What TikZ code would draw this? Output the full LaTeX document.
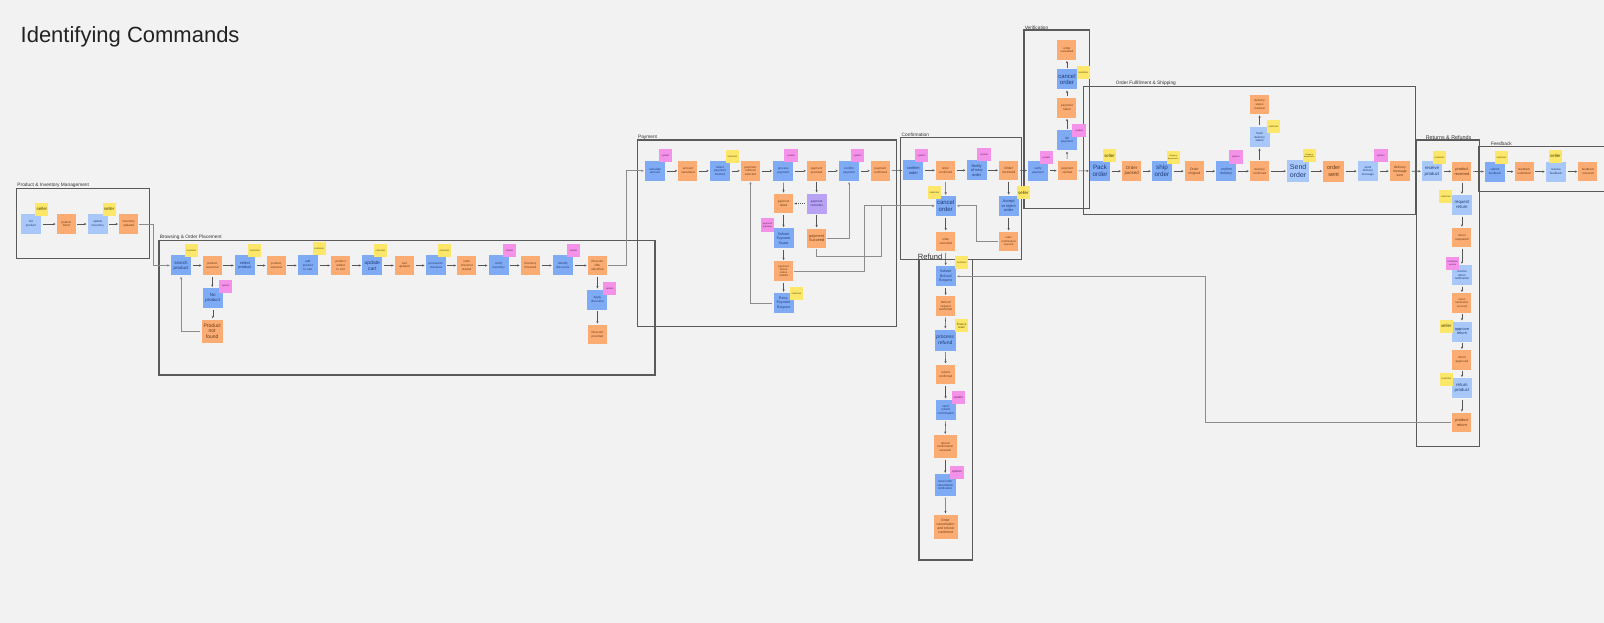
\documentclass[tikz,border=0pt]{standalone}
\usepackage{fontspec}
\setmainfont{Liberation Sans}
\newfontfamily\myserif{Liberation Serif}
\usetikzlibrary{arrows.meta}
\definecolor{bg}{HTML}{F2F2F2}
\definecolor{nblue}{HTML}{7FAAF4}
\definecolor{nlblue}{HTML}{A8C8F9}
\definecolor{norange}{HTML}{FBAC72}
\definecolor{nyellow}{HTML}{FDE76B}
\definecolor{npink}{HTML}{F492EA}
\definecolor{npurple}{HTML}{B8A2F4}
\definecolor{tblue}{HTML}{1F3C78}
\definecolor{tor}{HTML}{6B3B16}
\definecolor{tye}{HTML}{4F4700}
\definecolor{tpi}{HTML}{5E1F57}
\definecolor{tpu}{HTML}{3D2A73}
\definecolor{framec}{HTML}{5A5A5A}
\definecolor{flc}{HTML}{333333}
\definecolor{linec}{HTML}{555555}
\definecolor{connc}{HTML}{8C8C8C}
\definecolor{titlec}{HTML}{222222}
\tikzset{
 note/.style={rectangle, inner sep=0.3pt, align=center, minimum width=20pt, minimum height=20pt, font=\fontsize{3}{3.7}\selectfont},
 bnote/.style={note, fill=nblue, text=tblue},
 lbnote/.style={note, fill=nlblue, text=tblue},
 onote/.style={note, fill=norange, text=tor, minimum width=19pt, minimum height=19.5pt},
 pnote/.style={note, fill=npurple, text=tpu},
 tagn/.style={rectangle, inner sep=0.2pt, align=center, minimum width=13pt, minimum height=13pt, font=\fontsize{2.4}{2.9}\selectfont},
 ytag/.style={tagn, fill=nyellow, text=tye},
 ptag/.style={tagn, fill=npink, text=tpi, minimum width=13.5pt, minimum height=13.5pt},
 fs6/.style={font=\fontsize{6}{6.8}\selectfont},
 fs5/.style={font=\fontsize{5}{5.8}\selectfont},
 fs45/.style={font=\fontsize{4.4}{5.1}\selectfont},
 fs4/.style={font=\fontsize{3.9}{4.6}\selectfont},
 fs35/.style={font=\fontsize{3.4}{4}\selectfont},
 sel/.style={font=\fontsize{4.4}{5}\selectfont},
 serifn/.style={font=\myserif\fontsize{4}{4.7}\selectfont},
 grp/.style={draw=framec, line width=1.1pt},
 flabel/.style={anchor=south west, inner sep=0.6pt, font=\fontsize{4.8}{5.2}\selectfont, text=flc},
 arr/.style={draw=linec, line width=0.55pt, -{Stealth[length=2.4pt,width=2.2pt]}, shorten >=1pt, shorten <=1.5pt},
 conn/.style={draw=connc, line width=0.8pt, -{Stealth[length=2.6pt,width=2.4pt]}, shorten >=1pt, shorten <=1pt},
}
\begin{document}
\begin{tikzpicture}[x=1.023pt,y=-1.023pt]
\fill[bg] (0,0) rectangle (1568,609);
\useasboundingbox (0,0) rectangle (1568,609);
\node[anchor=west, inner sep=0, font=\fontsize{22}{26}\selectfont, text=titlec] (title) at (20,36) {Identifying Commands};

% frames
\draw[grp] (16.3,184) rectangle (146,252.5);
\node[flabel] (lprod) at (16.3,184) {Product \& Inventory Management};
\draw[grp] (155.4,235.3) rectangle (640.3,366.6);
\node[flabel] (lbrow) at (155.4,235.3) {Browsing \& Order Placement};
\draw[grp] (623,136.9) rectangle (876.5,319.3);
\node[flabel] (lpay) at (623,136.9) {Payment};
\draw[grp] (880.7,134.6) rectangle (998.7,254);
\node[flabel] (lconf) at (880.7,134.6) {Confirmation};
\draw[grp] (898.4,254) rectangle (950.5,547.4);
\node[flabel, font=\fontsize{7.6}{8}\selectfont] (lref) at (896.5,254.5) {Refund};
\draw[grp] (1001,29.3) rectangle (1064.6,203.6);
\node[flabel] (lver) at (1001,29.3) {Verification};
\draw[grp] (1059,84.7) rectangle (1384,210);
\node[flabel] (lful) at (1090,84.7) {Order Fulfillment \& Shipping};
\draw[grp] (1384.8,136.9) rectangle (1446,436.6);
\node[flabel, font=\fontsize{5.4}{5.8}\selectfont] (lret) at (1393,136.9) {Returns \& Refunds};
\draw[grp] (1445,143.4) rectangle (1580,187.4);
\node[flabel] (lfee) at (1456.5,143.4) {Feedback};

% product & inventory
\node[lbnote] (p1) at (30.3,219) {list\\product};
\node[onote] (p2) at (64.8,219) {product\\listed};
\node[lbnote] (p3) at (95.5,219) {update\\inventory};
\node[onote] (p4) at (125.8,219) {inventory\\updated};
\node[ytag, sel] (tp1) at (41,204.5) {seller};
\node[ytag, sel] (tp3) at (106.7,204.5) {seller};

% browsing
\node[bnote, fs45] (b1) at (177,259.5) {search\\product};
\node[onote] (b2) at (207.5,259.5) {product\\searched};
\node[bnote, fs4] (b3) at (239.5,259.5) {select\\product};
\node[onote] (b4) at (270,259.5) {product\\selected};
\node[bnote] (b5) at (301,259.5) {add\\product\\to cart};
\node[onote] (b6) at (333,259.5) {product\\added\\to cart};
\node[bnote, fs5] (b7) at (364,259.5) {update\\cart};
\node[onote] (b8) at (395.4,259.5) {cart\\updated};
\node[bnote] (b9) at (426,259.5) {proceed to\\checkout};
\node[onote] (b10) at (456.3,259.5) {order\\checkout\\started};
\node[bnote] (b11) at (487.5,259.5) {verify\\inventory};
\node[onote] (b12) at (518.4,259.5) {Inventory\\Checked};
\node[bnote] (b13) at (550.3,259.5) {Identify\\discounts};
\node[onote] (b14) at (584,259.5) {Discount\\offer\\identified};
\node[bnote] (b15) at (584,293) {Apply\\discounts};
\node[onote] (b16) at (584,327) {Discount\\provided};
\node[bnote, fs45] (b17) at (208,291.5) {No\\product};
\node[onote, fs5, minimum width=21pt, minimum height=23pt] (b18) at (207.4,323.6) {Product\\not\\found};
\node[ytag] (tb1) at (187,245) {customer};
\node[ytag] (tb3) at (249,245) {customer};
\node[ytag] (tb5) at (312,243) {customer};
\node[ytag] (tb7) at (372,245) {customer};
\node[ytag] (tb9) at (434.5,245) {customer};
\node[ptag] (tb11) at (498,245) {system};
\node[ptag] (tb13) at (560.5,245) {system};
\node[ptag] (tb15) at (596,282) {system};
\node[ptag] (tb17) at (220.5,280) {system};

% payment
\node[bnote] (c1) at (640.3,167) {calculate\\amount};
\node[onote] (c2) at (672.5,167) {amount\\calculated};
\node[bnote] (c3) at (703.8,167) {select\\payment\\method};
\node[onote] (c4) at (733.6,167) {payment\\method\\selected};
\node[bnote] (c5) at (765.7,167) {process\\payment};
\node[onote] (c6) at (798.3,167) {payment\\provided};
\node[bnote] (c7) at (830,167) {confirm\\payment};
\node[onote] (c8) at (860.7,167) {payment\\confirmed};
\node[onote] (c9) at (766,199) {payment\\failed};
\node[pnote] (c10) at (798.3,199) {payment\\controller};
\node[bnote, serifn] (c11) at (766,233) {Submit\\Payment\\Status};
\node[onote, fs4] (c12) at (798.3,233) {payment\\Succeed};
\node[onote, font=\fontsize{2.7}{3.3}\selectfont] (c13) at (766,265) {payment\\failure\\status\\notified};
\node[bnote, serifn] (c14) at (766,296.2) {Retry\\Payment\\Request};
\node[ptag] (tc1) at (650.5,152) {system};
\node[ytag] (tc3) at (716,153) {customer};
\node[ptag] (tc5) at (773.4,152) {system};
\node[ptag] (tc7) at (838.2,152) {system};
\node[ptag] (tc11) at (750.2,220.1) {payment\\gateway};
\node[ytag] (tc14) at (778.6,287) {customer};

% confirmation
\node[bnote, fs4] (f1) at (892.8,166.5) {confirm\\order};
\node[onote] (f2) at (924.3,166.5) {order\\confirmed};
\node[bnote, fs4] (f3) at (954.7,166.5) {Notify\\of new\\order};
\node[onote, fs35] (f4) at (986,166.5) {Order\\received};
\node[bnote, fs6] (f5) at (924.5,201.2) {cancel\\order};
\node[onote] (f6) at (924.5,236) {order\\cancelled};
\node[bnote, fs4] (f7) at (986,201.2) {Accept\\or reject\\order};
\node[onote, font=\fontsize{2.7}{3.3}\selectfont] (f8) at (986,236) {order\\confirmation\\rejected};
\node[ptag] (tf1) at (900.8,152) {system};
\node[ptag] (tf3) at (962,151) {system};
\node[ytag] (tf5) at (913.5,188.2) {customer};
\node[ytag, sel] (tf7) at (1000.4,188.2) {seller};

% refund
\node[bnote, serifn] (d1) at (924.4,270.1) {Submit\\Refund\\Request};
\node[onote] (d2) at (924.4,299.1) {Refund\\request\\submitted};
\node[bnote, fs5, minimum width=21pt, minimum height=21pt] (d3) at (924,332.4) {process\\refund};
\node[onote] (d4) at (924.4,365.9) {refund\\confirmed};
\node[bnote] (d5) at (924.4,400.5) {send\\refund\\confirmation};
\node[onote, minimum width=23pt, minimum height=23pt] (d6) at (924,436.6) {refund\\confirmation\\received};
\node[bnote, minimum width=21pt, minimum height=22pt] (d7) at (924,474.1) {send order\\cancellation\\notification};
\node[onote, fs35, minimum width=24pt, minimum height=24pt] (d8) at (924.3,514.7) {Order\\cancellation\\and refund\\confirmed};
\node[ytag] (td1) at (940.1,256.6) {customer};
\node[ytag, font=\fontsize{3}{3.5}\selectfont] (td3) at (940.1,318.5) {finance\\team};
\node[ptag, font=\fontsize{3}{3.5}\selectfont] (td5) at (936.8,388.6) {system};
\node[ptag, font=\fontsize{3}{3.5}\selectfont] (td7) at (935.5,461.7) {system};

% verification
\node[bnote] (v1) at (1014.7,166.8) {verify\\payment};
\node[onote] (v2) at (1043.3,166.8) {payment\\verified};
\node[bnote] (v3) at (1043,137.2) {fail\\payment};
\node[onote] (v4) at (1043,105.4) {payment\\failed};
\node[bnote, fs6] (v5) at (1043,77.5) {cancel\\order};
\node[onote] (v6) at (1043,48.9) {order\\cancelled};
\node[ptag] (tv1) at (1022.8,154) {system};
\node[ptag] (tv3) at (1055,127.6) {system};
\node[ytag] (tv5) at (1059,70.9) {customer};

% fulfillment
\node[bnote, font=\fontsize{6.3}{7}\selectfont] (s1) at (1075.3,167.3) {Pack\\order};
\node[onote, fs45] (s2) at (1106.2,167.3) {Order\\packed};
\node[bnote, font=\fontsize{6.3}{7}\selectfont] (s3) at (1135.9,167.3) {ship\\order};
\node[onote, fs35] (s4) at (1167.6,167.3) {Order\\shipped};
\node[bnote, fs35] (s5) at (1198.8,167.3) {confirm\\delivery};
\node[onote] (s6) at (1231.3,167.3) {delivery\\confirmed};
\node[lbnote] (s7) at (1231.3,134.1) {track\\delivery\\status};
\node[onote] (s8) at (1231.3,102) {delivery\\status\\tracked};
\node[lbnote, font=\fontsize{7}{7.8}\selectfont, minimum width=22pt, minimum height=22pt] (s9) at (1269,167.3) {Send\\order};
\node[onote, font=\fontsize{5.6}{6.6}\selectfont, minimum width=20.5pt, minimum height=21pt] (s10) at (1303.7,167.3) {order\\sent};
\node[lbnote] (s11) at (1337.2,167.3) {send\\delivery\\message};
\node[onote, fs35, minimum width=20pt, minimum height=20.5pt] (s12) at (1368.5,167.3) {delivery\\message\\sent};
\node[ytag, sel] (ts1) at (1084.6,152) {seller};
\node[ytag, font=\fontsize{2}{2.5}\selectfont] (ts3) at (1146.8,154) {shipping\\department};
\node[ptag] (ts5) at (1208,153.7) {system};
\node[ytag] (ts7) at (1244.9,124) {customer};
\node[ytag, font=\fontsize{2}{2.5}\selectfont] (ts9) at (1279.8,152.3) {shipping\\department};
\node[ptag] (ts11) at (1349.8,152) {system};

% returns
\node[lbnote, fs45] (r1) at (1399.8,167.5) {receive\\product};
\node[onote, fs4] (r2) at (1429.1,167.5) {product\\received};
\node[lbnote, fs45] (r3) at (1429.1,200.4) {request\\return};
\node[onote] (r4) at (1429.1,232.3) {return\\requested};
\node[lbnote] (r5) at (1429.1,268.8) {receive\\return\\notification};
\node[onote, font=\fontsize{2.7}{3.3}\selectfont] (r6) at (1429.1,296.2) {return\\notification\\received};
\node[lbnote, fs4] (r7) at (1429.1,324.2) {approve\\return};
\node[onote] (r8) at (1429.1,351.9) {return\\approved};
\node[lbnote, fs45] (r9) at (1429.1,379.6) {return\\product};
\node[onote, fs4] (r10) at (1429.1,413) {product\\return};
\node[ytag] (tr1) at (1407.1,154) {customer};
\node[ytag] (tr3) at (1413.3,192.3) {customer};
\node[ptag, font=\fontsize{2.2}{2.7}\selectfont] (tr5) at (1420,257.6) {notification\\service};
\node[ytag, sel] (tr7) at (1413.8,318.8) {seller};
\node[ytag] (tr9) at (1413.8,370.7) {customer};

% feedback
\node[bnote] (k1) at (1461.4,167.8) {submit\\feedback};
\node[onote] (k2) at (1489.9,167.8) {feedback\\submitted};
\node[lbnote] (k3) at (1521,167.8) {receive\\feedback};
\node[onote] (k4) at (1552.3,167.8) {feedback\\received};
\node[ytag] (tk1) at (1467.8,154) {customer};
\node[ytag, sel] (tk3) at (1520.5,152.5) {seller};

% connectors: product
\draw[arr] (p1) -- (p2);
\draw[arr] (p2) -- (p3);
\draw[arr] (p3) -- (p4);
\draw[conn] (p4.east) -- (150,219) |- (b1.west);
% browsing
\draw[arr] (b1) -- (b2);
\draw[arr] (b2) -- (b3);
\draw[arr] (b3) -- (b4);
\draw[arr] (b4) -- (b5);
\draw[arr] (b5) -- (b6);
\draw[arr] (b6) -- (b7);
\draw[arr] (b7) -- (b8);
\draw[arr] (b8) -- (b9);
\draw[arr] (b9) -- (b10);
\draw[arr] (b10) -- (b11);
\draw[arr] (b11) -- (b12);
\draw[arr] (b12) -- (b13);
\draw[arr] (b13) -- (b14);
\draw[arr] (b14.south) -- (b15.north);
\draw[arr] (b15.south) -- (b16.north);
\draw[arr] (b2.south) -- (b2.south |- b17.north);
\draw[arr] (b17.south) -- (b17.south |- b18.north);
\draw[conn] (b18.west) -| (b1.south);
\draw[conn] (b14.east) -- (612.6,259.5) |- (c1.west);
% payment
\draw[arr] (c1) -- (c2);
\draw[arr] (c2) -- (c3);
\draw[arr] (c3) -- (c4);
\draw[arr] (c4) -- (c5);
\draw[arr] (c5) -- (c6);
\draw[arr] (c6) -- (c7);
\draw[arr] (c7) -- (c8);
\draw[arr] (c5.south) -- (c9.north);
\draw[arr] (c9.south) -- (c11.north);
\draw[arr] (c11.south) -- (c13.north);
\draw[arr] (c13.south) -- (c14.north);
\draw[arr] (c6.south) -- (c10.north);
\draw[arr] (c10.south) -- (c12.north);
\draw[arr, dash pattern=on 1pt off 1pt] (c10) -- (c9);
\draw[conn] (c14.west) -| (c4.south);
\draw[conn] (c12.east) -| (c7.south);
\draw[conn] (c12.south) |- (861.2,251) |- (f5.west);
\draw[conn] (c13.east) -- (844.9,265) |- (f5.west);
\draw[arr] (c8) -- (f1);
% confirmation
\draw[arr] (f1) -- (f2);
\draw[arr] (f2) -- (f3);
\draw[arr] (f3) -- (f4);
\draw[arr] (f2.south) -- (f5.north);
\draw[arr] (f4.south) -- (f7.north);
\draw[arr] (f7.south) -- (f8.north);
\draw[arr] (f5.south) -- (f6.north);
\draw[conn] (f8.west) -- (954.7,236) |- (f5.east);
\draw[arr] (f6.south) -- (d1.north);
\draw[arr] (f4) -- (v1);
% refund
\draw[arr] (d1.south) -- (d2.north);
\draw[arr] (d2.south) -- (d3.north);
\draw[arr] (d3.south) -- (d4.north);
\draw[arr] (d4.south) -- (d5.north);
\draw[arr] (d5.south) -- (d6.north);
\draw[arr] (d6.south) -- (d7.north);
\draw[arr] (d7.south) -- (d8.north);
% verification
\draw[arr] (v1) -- (v2);
\draw[arr] (v2.north) -- (v3.south);
\draw[arr] (v3.north) -- (v4.south);
\draw[arr] (v4.north) -- (v5.south);
\draw[arr] (v5.north) -- (v6.south);
\draw[arr] (v2) -- (s1);
% fulfillment
\draw[arr] (s1) -- (s2);
\draw[arr] (s2) -- (s3);
\draw[arr] (s3) -- (s4);
\draw[arr] (s4) -- (s5);
\draw[arr] (s5) -- (s6);
\draw[arr] (s6) -- (s9);
\draw[arr] (s9) -- (s10);
\draw[arr] (s10) -- (s11);
\draw[arr] (s11) -- (s12);
\draw[arr] (s6.north) -- (s7.south);
\draw[arr] (s7.north) -- (s8.south);
\draw[arr] (s12) -- (r1);
% returns
\draw[arr] (r1) -- (r2);
\draw[arr] (r2.south) -- (r3.north);
\draw[arr] (r3.south) -- (r4.north);
\draw[arr] (r4.south) -- (r5.north);
\draw[arr] (r5.south) -- (r6.north);
\draw[arr] (r6.south) -- (r7.north);
\draw[arr] (r7.south) -- (r8.north);
\draw[arr] (r8.south) -- (r9.north);
\draw[arr] (r9.south) -- (r10.north);
\draw[conn] (r10.west) -- (1178,413) |- (d1.east);
\draw[arr] (r2) -- (k1);
% feedback
\draw[arr] (k1) -- (k2);
\draw[arr] (k2) -- (k3);
\draw[arr] (k3) -- (k4);
\end{tikzpicture}
\end{document}
